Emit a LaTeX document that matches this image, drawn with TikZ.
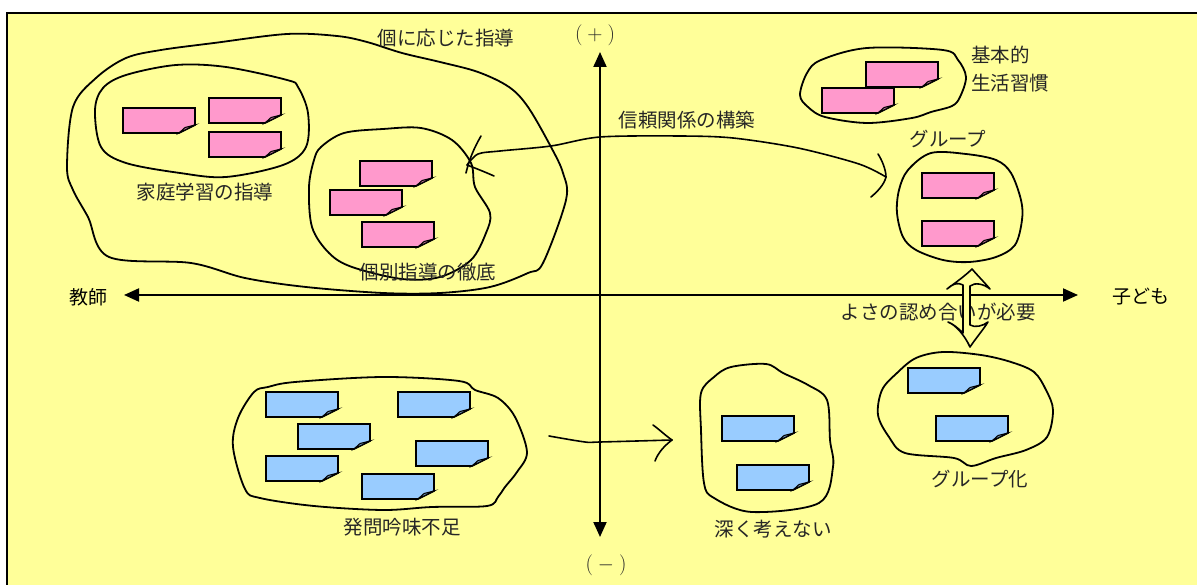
\documentclass[tikz,border=0pt]{standalone}
\usepackage{fontspec}
\newfontfamily\cjk{Noto Sans CJK JP}
\usetikzlibrary{arrows.meta}
\definecolor{bgy}{HTML}{FFFF99}
\definecolor{pinknote}{HTML}{FF99CC}
\definecolor{bluenote}{HTML}{99CCFF}
\tikzset{
  blob/.style={line width=1.8pt, line join=round},
  notebox/.style={line width=1.6pt, line join=miter},
  lbl/.style={font=\cjk\fontsize{19.5}{20}\selectfont, text=black!85, inner sep=0pt},
  axislbl/.style={font=\cjk\fontsize{19}{20}\selectfont, text=black, inner sep=0pt},
  signlbl/.style={font=\rmfamily\fontsize{21}{22}\selectfont, text=black!85, inner sep=0pt},
  axisline/.style={line width=2pt, {Triangle[length=15pt,width=13pt]}-{Triangle[length=15pt,width=13pt]}},
  hand/.style={line width=1.6pt, line cap=round, line join=round},
  pics/stickynote/.style={code={
    \filldraw[notebox, fill=#1] (0,0) -- (72,0) -- (72,17) -- (56,25) -- (0,25) -- cycle;
    \filldraw[line width=1pt, fill=#1!70!black] (56,25) -- (62,19.5) -- (72,17) -- cycle;
  }},
}
\begin{document}
\begin{tikzpicture}[x=1pt, y=-1pt]
\useasboundingbox (0,0) rectangle (1197,585);
% background and frame
\fill[bgy] (7,13) rectangle (1197,585);
\draw[line width=1.5pt] (7,585) -- (7,13) -- (1197,13);

% axes
\coordinate (ytop) at (600,52);
\coordinate (ybot) at (600,537);
\coordinate (xleft) at (124,295);
\coordinate (xright) at (1078,295);
\draw[axisline] (ytop) -- (ybot);
\draw[axisline] (xleft) -- (xright);

% blobs
\draw[blob] plot[smooth cycle, tension=0.55] coordinates {(287,34) (214,43) (161,50) (126,58) (96,78) (73,107) (67,167) (73,190) (88,217) (109,257) (191,263) (245,278) (306,287) (383,293) (440,293) (490,287) (528,273) (543,263) (566,200) (563,173) (551,147) (528,107) (509,87) (478,72) (440,62) (402,53) (367,42) (337,36)};
\draw[blob] plot[smooth cycle, tension=0.55] coordinates {(103,88) (126,75) (176,65) (226,67) (287,80) (298,87) (308,113) (306,147) (283,165) (226,177) (180,173) (126,163) (101,147) (95,110)};
\draw[blob] plot[smooth cycle, tension=0.55] coordinates {(321,147) (344,133) (383,129) (421,128) (452,140) (471,163) (475,187) (490,213) (486,233) (471,260) (440,277) (402,279) (352,267) (329,253) (312,227) (309,187) (314,160)};
\draw[blob] plot[smooth cycle, tension=0.55] coordinates {(800,95) (807,73) (821,60) (867,48) (943,50) (958,60) (966,77) (960,97) (952,106) (931,112) (912,118) (867,123) (825,117) (808,107)};
\draw[blob] plot[smooth cycle, tension=0.55] coordinates {(931,153) (966,154) (996,160) (1011,173) (1021,200) (1022,220) (1015,245) (996,257) (969,262) (943,260) (916,250) (903,237) (897,213) (899,190) (908,170)};
\draw[blob] plot[smooth cycle, tension=0.55] coordinates {(254,392) (268,387) (295,382) (383,377) (459,381) (475,390) (498,398) (515,417) (527,452) (517,472) (505,487) (498,497) (487,506) (432,507) (383,510) (314,506) (260,498) (245,489) (233,447) (238,418)};
\draw[blob] plot[smooth cycle, tension=0.55] coordinates {(701,393) (714,377) (731,367) (766,364) (783,373) (808,385) (827,400) (830,440) (833,467) (819,503) (752,512) (714,498) (704,483) (701,430)};
\draw[blob] plot[smooth cycle, tension=0.55] coordinates {(897,373) (916,358) (943,352) (981,355) (1011,362) (1034,372) (1046,390) (1053,410) (1047,437) (1026,450) (996,458) (971,466) (954,458) (905,453) (889,437) (878,415) (882,390)};

% sticky notes (pink)
\pic at (123,108) {stickynote=pinknote};
\pic at (209,98) {stickynote=pinknote};
\pic at (209,132) {stickynote=pinknote};
\pic at (360,161) {stickynote=pinknote};
\pic at (330,190) {stickynote=pinknote};
\pic at (362,222) {stickynote=pinknote};
\pic at (866,62) {stickynote=pinknote};
\pic at (822,88) {stickynote=pinknote};
\pic at (922,173) {stickynote=pinknote};
\pic at (922,221) {stickynote=pinknote};
% sticky notes (blue)
\pic at (266,392) {stickynote=bluenote};
\pic at (398,392) {stickynote=bluenote};
\pic at (298,424) {stickynote=bluenote};
\pic at (416,441) {stickynote=bluenote};
\pic at (266,456) {stickynote=bluenote};
\pic at (362,474) {stickynote=bluenote};
\pic at (722,416) {stickynote=bluenote};
\pic at (737,465) {stickynote=bluenote};
\pic at (908,368) {stickynote=bluenote};
\pic at (936,416) {stickynote=bluenote};

% connector: 個別指導 <-> グループ
\coordinate (trustL) at (467,165);
\coordinate (trustR) at (886,177);
\draw[hand] plot[smooth, tension=0.5] coordinates {(trustL) (478,154) (500,151) (551,146) (600,137) (680,136) (733,138) (798,148) (859,164) (trustR)};
\draw[hand] (481,136) .. controls (474,148) and (469,160) .. (466,173);
\draw[hand] (trustL) .. controls (475,168) and (485,172) .. (494,176);
\draw[hand] (878,154) .. controls (882,160) and (886,170) .. (trustR) .. controls (884,185) and (877,192) .. (871,197);

% connector: 発問吟味不足 -> 深く考えない
\coordinate (qL) at (549,436);
\coordinate (qR) at (672,440);
\draw[hand] plot[smooth, tension=0.5] coordinates {(qL) (585,442) (600,442) (qR)};
\draw[hand] (653,425) .. controls (660,430) and (666,436) .. (qR) .. controls (664,446) and (658,453) .. (655,461);

% labels
\node[lbl] (t1) at (446,38) {個に応じた指導};
\node[lbl] (t2) at (205,192) {家庭学習の指導};
\node[lbl] (t3) at (428,272) {個別指導の徹底};
\node[lbl] (t4) at (687,120) {信頼関係の構築};
\node[lbl, anchor=west] (t5) at (971,55) {基本的};
\node[lbl, anchor=west] (t6) at (971,83) {生活習慣};
\node[lbl] (t7) at (948,139) {グループ};
\node[lbl] (t8) at (938,312) {よさの認め合いが必要};
\node[lbl] (t9) at (402,527) {発問吟味不足};
\node[lbl] (t10) at (773,529) {深く考えない};
\node[lbl] (t11) at (980,479) {グループ化};
\node[axislbl] (teacher) at (88,297) {教師};
\node[axislbl] (child) at (1141,297) {子ども};
\node[signlbl] (plus) at (595,35) {(\kern5pt+\kern5pt)};
\node[signlbl] (minus) at (606,565) {(\kern5pt$-$\kern5pt)};

% double arrow between groups (filled, over the label)
\filldraw[hand, fill=bgy] (963,333) -- (963,285)
  .. controls (958,282) and (952,284) .. (947,289)
  .. controls (955,283) and (965,276) .. (972,269)
  .. controls (978,276) and (985,283) .. (990,289)
  .. controls (984,284) and (975,282) .. (970,286) -- (970,325)
  .. controls (975,328) and (983,326) .. (988,322)
  .. controls (983,330) and (976,338) .. (970,347)
  .. controls (965,336) and (956,325) .. (948,322)
  .. controls (953,324) and (958,328) .. (963,333) -- cycle;
\end{tikzpicture}
\end{document}
